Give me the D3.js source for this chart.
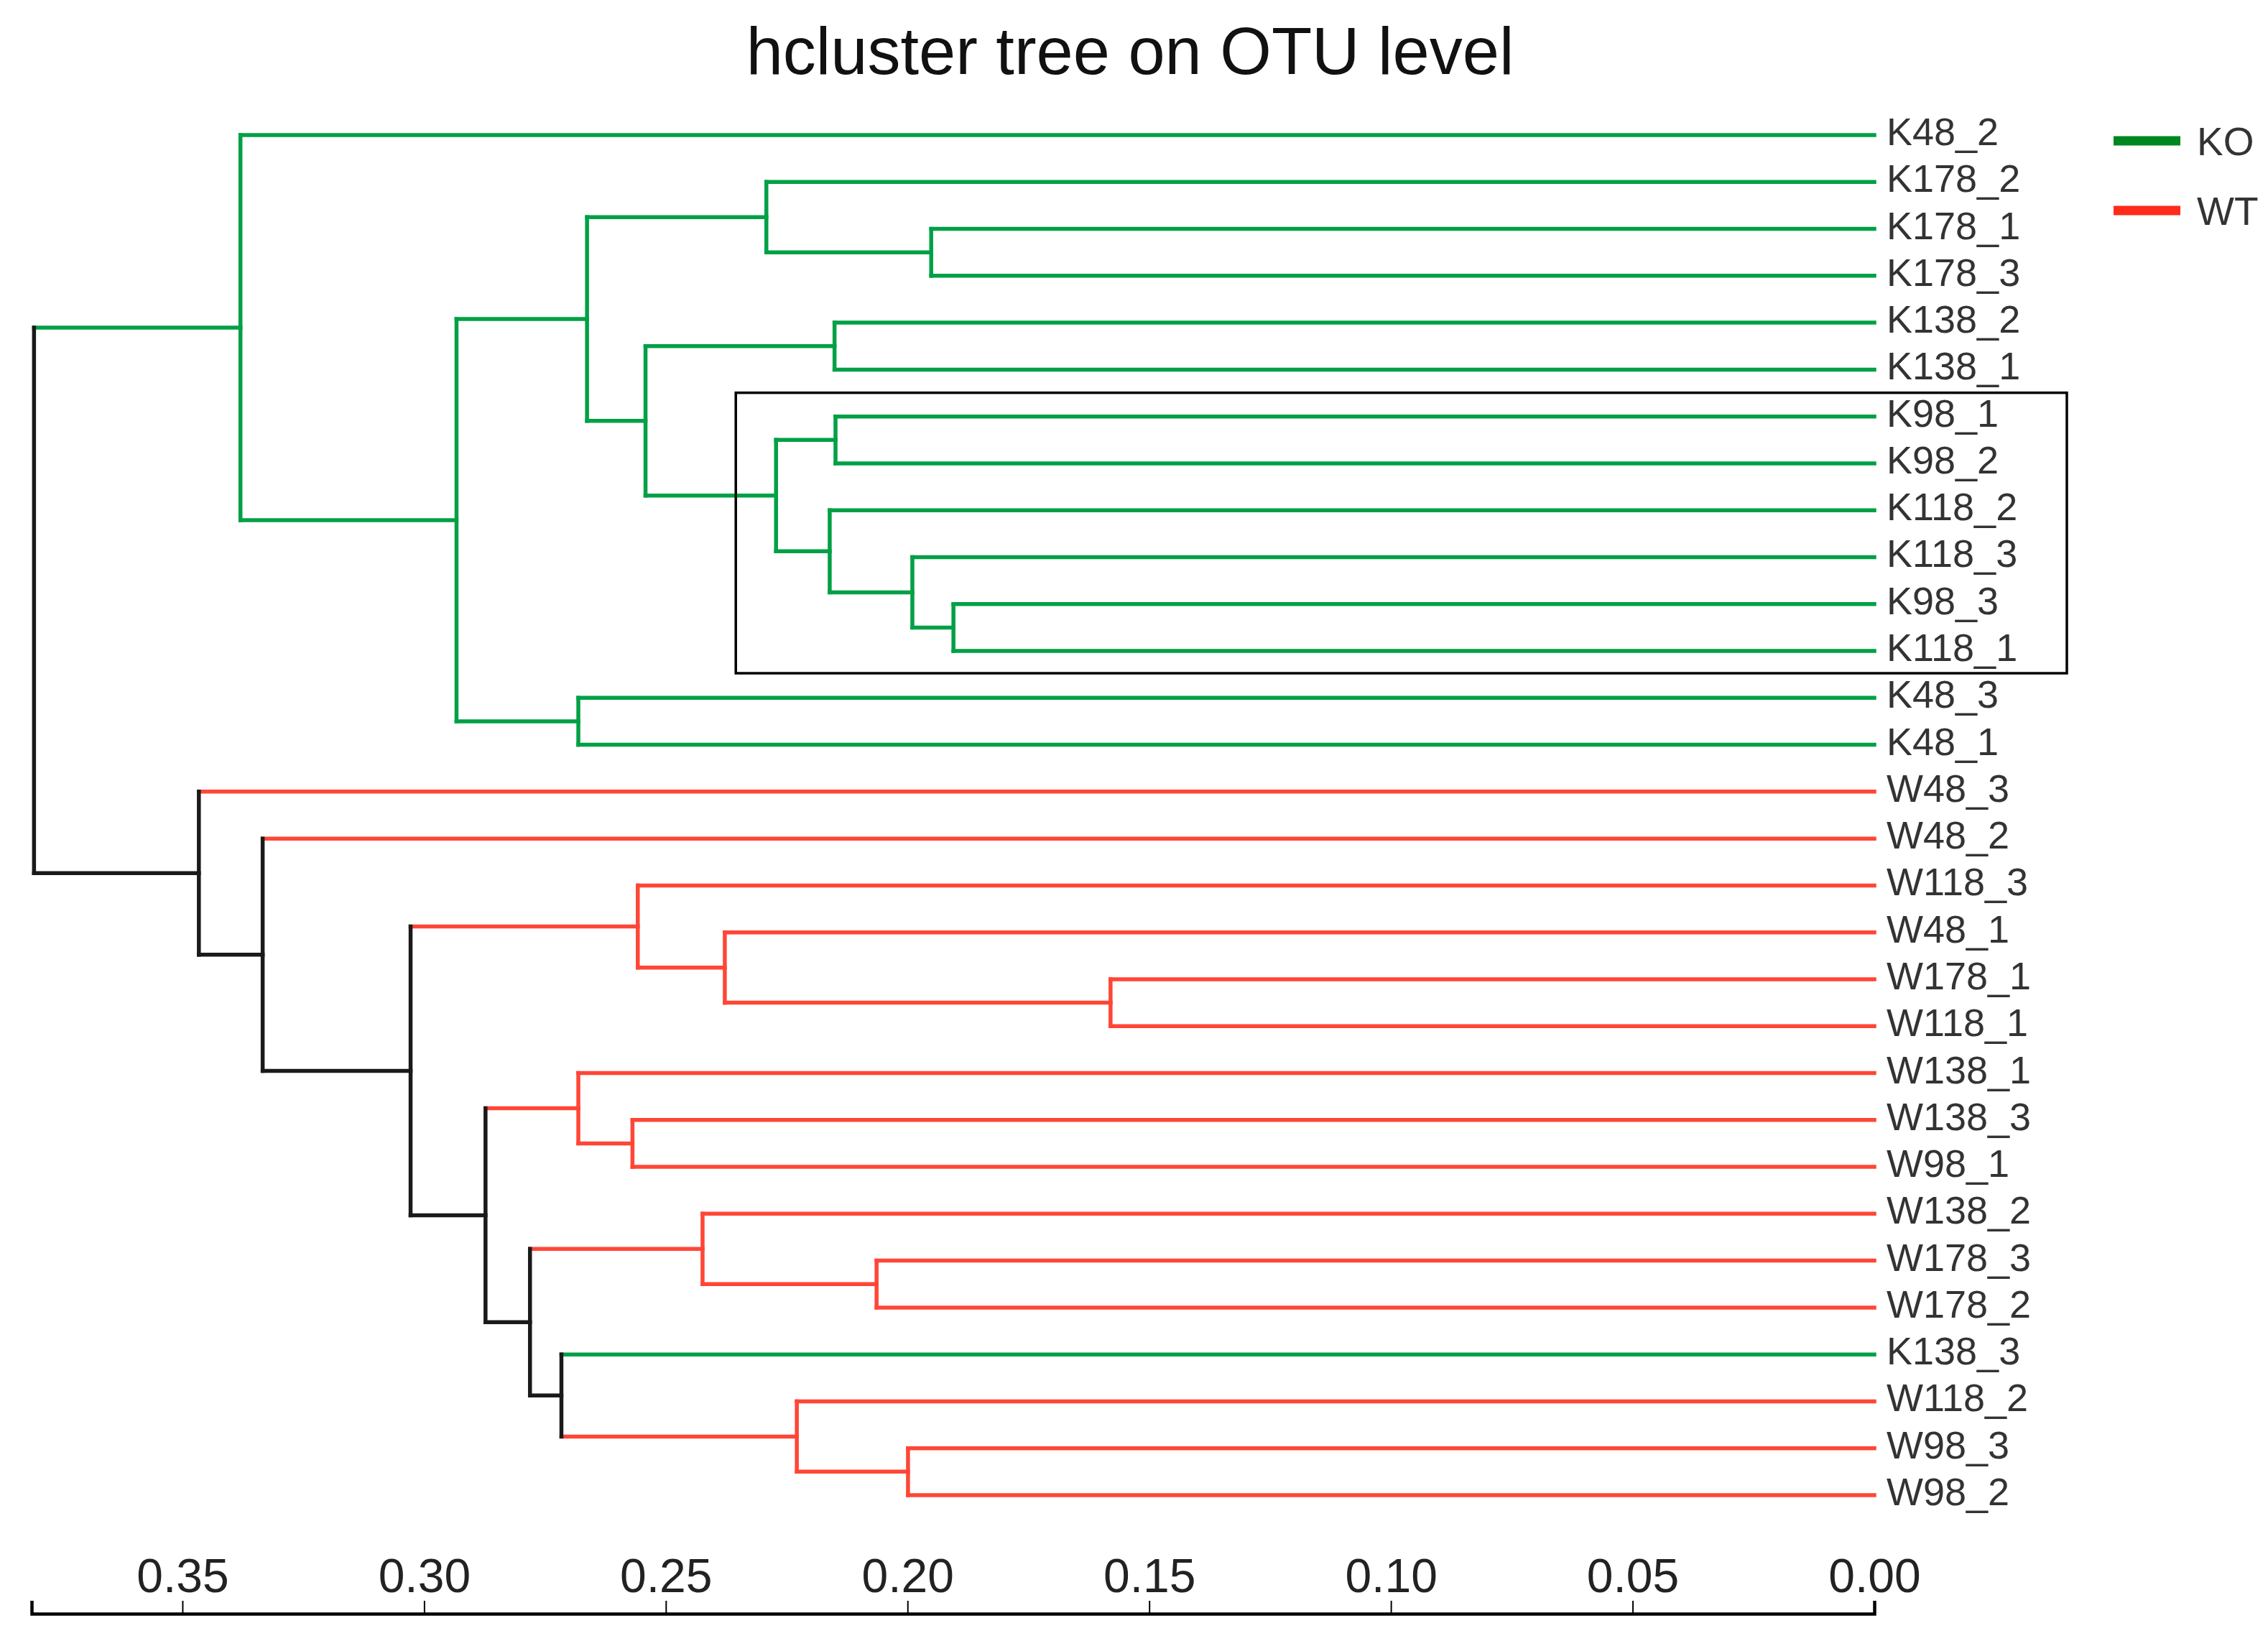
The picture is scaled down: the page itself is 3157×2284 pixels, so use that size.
<!DOCTYPE html>
<html>
<head>
<meta charset="utf-8">
<script src="https://cdn.jsdelivr.net/npm/d3@7"></script>
<style>
  body { margin: 0; background: #fff; }
  text { font-family: "Liberation Sans", Arial, sans-serif; }
</style>
</head>
<body>
<div id="chart"></div>
<script>
// Leaf order, top to bottom, as drawn
const LEAVES = [
  'K48_2', 'K178_2', 'K178_1', 'K178_3', 'K138_2', 'K138_1', 'K98_1', 'K98_2',
  'K118_2', 'K118_3', 'K98_3', 'K118_1', 'K48_3', 'K48_1', 'W48_3', 'W48_2',
  'W118_3', 'W48_1', 'W178_1', 'W118_1', 'W138_1', 'W138_3', 'W98_1', 'W138_2',
  'W178_3', 'W178_2', 'K138_3', 'W118_2', 'W98_3', 'W98_2'
]
const LEAF_GROUP = LEAVES.map(d => d[0] === 'K' ? 'KO' : 'WT')

// Merge steps: [child a, child b, height]; "nX" refers to merge X (1-based)
const MERGES = [
  ['K178_1', 'K178_3', 0.1951],   // n1
  ['K178_2', 'n1', 0.2292],       // n2
  ['K138_2', 'K138_1', 0.2151],   // n3
  ['K98_1', 'K98_2', 0.2149],     // n4
  ['K98_3', 'K118_1', 0.1905],    // n5
  ['K118_3', 'n5', 0.1990],       // n6
  ['K118_2', 'n6', 0.2161],       // n7
  ['n4', 'n7', 0.2272],           // n8
  ['n3', 'n8', 0.2542],           // n9
  ['n2', 'n9', 0.2663],           // n10
  ['K48_3', 'K48_1', 0.2681],     // n11
  ['n10', 'n11', 0.2933],         // n12
  ['K48_2', 'n12', 0.3380],       // n13
  ['W178_1', 'W118_1', 0.1580],   // n14
  ['W48_1', 'n14', 0.2378],       // n15
  ['W118_3', 'n15', 0.2558],      // n16
  ['W138_3', 'W98_1', 0.2569],    // n17
  ['W138_1', 'n17', 0.2681],      // n18
  ['W178_3', 'W178_2', 0.2064],   // n19
  ['W138_2', 'n19', 0.2424],      // n20
  ['W98_3', 'W98_2', 0.1999],     // n21
  ['W118_2', 'n21', 0.2229],      // n22
  ['K138_3', 'n22', 0.2716],      // n23
  ['n20', 'n23', 0.2781],         // n24
  ['n18', 'n24', 0.2873],         // n25
  ['n16', 'n25', 0.3028],         // n26
  ['W48_2', 'n26', 0.3334],       // n27
  ['W48_3', 'n27', 0.3466],       // n28
  ['n13', 'n28', 0.3807]          // n29
]

const AXIS_TICKS = [0, 0.05, 0.10, 0.15, 0.20, 0.25, 0.30, 0.35]
const GROUPS = ['KO', 'WT']
const TREE_COLORS = { KO: '#00a046', WT: '#ff4636', mixed: '#1a1a1a' }
const LEGEND_COLORS = { KO: '#00861f', WT: '#ff2a1a' }

const W = 3157, H = 2284

const svg = d3.select('#chart').append('svg')
  .attr('width', W).attr('height', H)
  .style('background', '#fff')

// build hierarchy from merges
const lookup = {}
LEAVES.forEach((name, i) => { lookup[name] = { name, height: 0, group: LEAF_GROUP[i] } })
MERGES.forEach(([a, b, h], i) => {
  lookup['n' + (i + 1)] = { name: 'n' + (i + 1), height: h, children: [lookup[a], lookup[b]] }
})
const root = d3.hierarchy(lookup['n' + MERGES.length])

const x = d3.scaleLinear().domain([0.3812, 0]).range([44, 2609])
const yLeaf = d3.scalePoint().domain(LEAVES).range([188, 2081])

root.eachAfter(n => {
  if (n.children) {
    n.py = d3.mean(n.children, c => c.py)
    const gs = new Set(n.children.map(c => c.grp))
    n.grp = gs.size === 1 ? [...gs][0] : 'mixed'
  } else {
    n.py = yLeaf(n.data.name)
    n.grp = n.data.group
  }
  n.px = x(n.data.height)
})

const tree = svg.append('g')
  .attr('fill', 'none')
  .attr('stroke-width', 5.5)
  .attr('stroke-linecap', 'square')

const inner = root.descendants().filter(n => n.children)

// horizontal branches
tree.selectAll('line.h')
  .data(root.descendants().filter(n => n.parent))
  .enter().append('line')
  .attr('class', 'h')
  .attr('x1', d => d.parent.px).attr('x2', d => d.px)
  .attr('y1', d => d.py).attr('y2', d => d.py)
  .attr('stroke', d => TREE_COLORS[d.grp])

// vertical connectors
tree.selectAll('line.v')
  .data(inner)
  .enter().append('line')
  .attr('class', 'v')
  .attr('x1', d => d.px).attr('x2', d => d.px)
  .attr('y1', d => d.children[0].py).attr('y2', d => d.children[1].py)
  .attr('stroke', d => TREE_COLORS[d.grp])

// leaf labels
svg.append('g').selectAll('text')
  .data(root.leaves())
  .enter().append('text')
  .attr('x', 2626)
  .attr('y', d => d.py + 14)
  .attr('font-size', 54)
  .attr('fill', '#333')
  .text(d => d.data.name)

// highlight box around the K98 / K118 cluster
const boxNode = inner.find(n => n.data.name === 'n8')
const boxLeaves = boxNode.leaves()
svg.append('rect')
  .attr('x', boxNode.px - 56)
  .attr('y', d3.min(boxLeaves, d => d.py) - 33)
  .attr('width', 2877 - (boxNode.px - 56))
  .attr('height', d3.max(boxLeaves, d => d.py) - d3.min(boxLeaves, d => d.py) + 64)
  .attr('fill', 'none')
  .attr('stroke', '#000')
  .attr('stroke-width', 3.5)

// axis along the bottom, ticks pointing up
const axis = svg.append('g')
  .attr('transform', 'translate(0,2246)')
  .call(d3.axisTop(x).tickValues(AXIS_TICKS).tickFormat(d3.format('.2f'))
    .tickSize(18).tickSizeOuter(18).tickPadding(12))
axis.select('.domain').attr('stroke', '#000').attr('stroke-width', 4.5)
axis.selectAll('.tick line').attr('stroke', '#000').attr('stroke-width', 2)
axis.selectAll('.tick text')
  .attr('font-size', 66)
  .attr('fill', '#222')
  .style('font-family', '"Liberation Sans", Arial, sans-serif')

// title
svg.append('text')
  .attr('x', 1573).attr('y', 103)
  .attr('text-anchor', 'middle')
  .attr('font-size', 92)
  .attr('fill', '#111')
  .text('hcluster tree on OTU level')

// legend
const legend = svg.append('g').attr('transform', 'translate(2942,196)')
GROUPS.forEach((g, i) => {
  const row = legend.append('g').attr('transform', `translate(0,${i * 97})`)
  row.append('line')
    .attr('x1', 0).attr('x2', 93)
    .attr('stroke', LEGEND_COLORS[g]).attr('stroke-width', 13)
  row.append('text')
    .attr('x', 116).attr('y', 20)
    .attr('font-size', 55)
    .attr('fill', '#333')
    .text(g)
})
</script>
</body>
</html>
